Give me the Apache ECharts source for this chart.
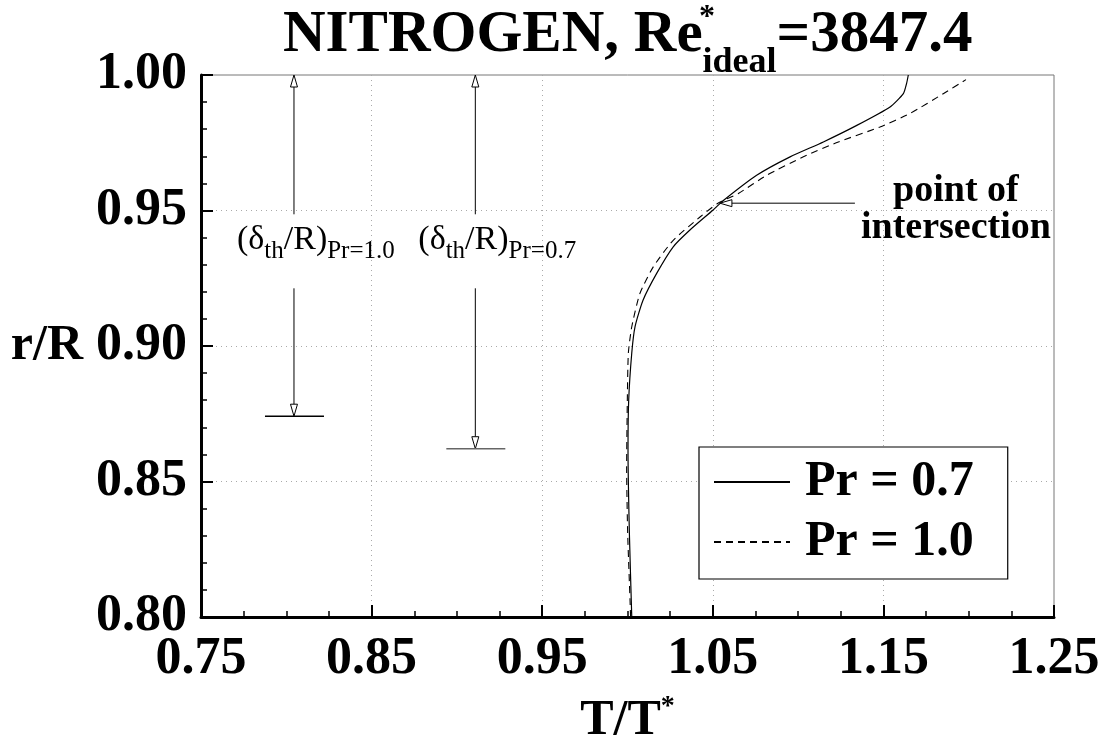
<!DOCTYPE html>
<html>
<head>
<meta charset="utf-8">
<script src="https://cdn.jsdelivr.net/npm/echarts@6/dist/echarts.min.js"></script>
<style>
  html, body { margin: 0; padding: 0; background: #fff; }
  #chart { width: 1109px; height: 738px; }
</style>
</head>
<body>
<div id="chart"></div>
<script>
// ---- data (T/T*, r/R) ----
const pr07 = [
  [1.0025, 0.800], [1.0011, 0.831], [1.0003, 0.862], [1.0007, 0.880],
  [1.0025, 0.8974], [1.0044, 0.9071], [1.0091, 0.9169], [1.0171, 0.9268],
  [1.0268, 0.9366], [1.0366, 0.9428], [1.0500, 0.9501], [1.0562, 0.9537],
  [1.0757, 0.9630], [1.0953, 0.9698], [1.1148, 0.9753], [1.1344, 0.9814],
  [1.1539, 0.9882], [1.1617, 0.9931], [1.1636, 0.9969], [1.1646, 1.000]
];
const pr10 = [
  [1.0018, 0.800], [1.0015, 0.806], [1.0001, 0.831], [0.9995, 0.855],
  [0.9999, 0.880], [1.0005, 0.8974], [1.0025, 0.9071], [1.0073, 0.9194],
  [1.0151, 0.9292], [1.0268, 0.9390], [1.0425, 0.9476], [1.0530, 0.9527],
  [1.0650, 0.9563], [1.0816, 0.9630], [1.1031, 0.9698], [1.1236, 0.9753],
  [1.1480, 0.9808], [1.1656, 0.9858], [1.1851, 0.9931], [1.1984, 0.9983]
];
const seriesNames = ['Pr = 0.7', 'Pr = 1.0'];
// thermal boundary layer thickness markers: T position, r/R at edge, Pr label
const deltaT = [0.8045, 0.9108];
const deltaEdge = [0.8741, 0.8621];
const deltaPr = ['1.0', '0.7'];
// point of intersection
const intersectPt = [1.0530, 0.9527];
const xTicks = [0.75, 0.85, 0.95, 1.05, 1.15, 1.25];
const yTicks = [0.80, 0.85, 0.90, 0.95, 1.00];

const SERIF = 'Liberation Serif, Times New Roman, serif';

const chart = echarts.init(document.getElementById('chart'), null, { renderer: 'canvas' });

function deltaItem(params, api) {
  const tX = api.value(0);
  const top = api.coord([tX, yTicks[yTicks.length - 1]]);
  const bot = api.coord([tX, api.value(1)]);
  const x = top[0];
  const labelY = api.coord([tX, 0.939])[1];
  const ah = 12, aw = 3.5;
  const pr = deltaPr[params.dataIndex];
  const stroke = { stroke: '#000', lineWidth: 1 };
  return {
    type: 'group',
    children: [
      { type: 'line', shape: { x1: x, y1: top[1] + ah, x2: x, y2: labelY - 26 }, style: stroke },
      { type: 'polygon', shape: { points: [[x, top[1]], [x - aw, top[1] + ah], [x + aw, top[1] + ah]] },
        style: { fill: '#fff', stroke: '#000', lineWidth: 1 } },
      { type: 'line', shape: { x1: x, y1: labelY + 48, x2: x, y2: bot[1] - ah }, style: stroke },
      { type: 'polygon', shape: { points: [[x, bot[1]], [x - aw, bot[1] - ah], [x + aw, bot[1] - ah]] },
        style: { fill: '#fff', stroke: '#000', lineWidth: 1 } },
      { type: 'line', shape: { x1: x - 29, y1: bot[1], x2: x + 30, y2: bot[1] },
        style: { stroke: params.dataIndex === 0 ? '#000' : '#666', lineWidth: 1.5 } },
      { type: 'text', x: x - 57, y: labelY,
        style: {
          text: '{p|(δ}{s|th}{p|/R)}{s|Pr=' + pr + '}',
          align: 'left', verticalAlign: 'middle',
          rich: {
            p: { fontFamily: SERIF, fontSize: 34, lineHeight: 48, fill: '#000', color: '#000' },
            s: { fontFamily: SERIF, fontSize: 25, lineHeight: 25, verticalAlign: 'bottom', fill: '#000', color: '#000' }
          }
        } }
    ]
  };
}

function intersectItem(params, api) {
  const p = api.coord([api.value(0), api.value(1)]);
  const x = p[0] + 2, y = p[1];
  const ah = 12, aw = 3.5;
  return {
    type: 'group',
    children: [
      { type: 'polygon', shape: { points: [[x, y], [x + ah, y - aw], [x + ah, y + aw]] },
        style: { fill: '#fff', stroke: '#000', lineWidth: 1 } },
      { type: 'line', shape: { x1: x + ah, y1: y, x2: x + 135, y2: y }, style: { stroke: '#000', lineWidth: 1 } },
      { type: 'text', x: x + 236, y: y + 7,
        style: {
          text: 'point of\nintersection', align: 'center', verticalAlign: 'middle',
          fontFamily: SERIF, fontWeight: 'bold', fontSize: 38, lineHeight: 37, fill: '#000'
        } }
    ]
  };
}

const fmt2 = v => Number(v).toFixed(2);

chart.setOption({
  animation: false,
  backgroundColor: '#fff',
  title: [
    {
      text: '{a|NITROGEN, Re}{b|ideal}{a|=3847.4}',
      left: 283,
      top: -9,
      padding: 0,
      textStyle: {
        rich: {
          a: { fontFamily: SERIF, fontWeight: 'bold', fontSize: 59, lineHeight: 90, color: '#000' },
          b: { fontFamily: SERIF, fontWeight: 'bold', fontSize: 36, lineHeight: 36, verticalAlign: 'bottom', color: '#000' }
        }
      }
    },
    {
      text: '*',
      left: 699,
      top: 2,
      padding: 0,
      textStyle: { fontFamily: SERIF, fontWeight: 'bold', fontSize: 32, color: '#000' }
    }
  ],
  grid: {
    left: 201, right: 55, top: 75, bottom: 121,
    outerBoundsMode: 'none', containLabel: false,
    show: true, borderColor: '#777', borderWidth: 1, backgroundColor: 'transparent'
  },
  legend: {
    orient: 'vertical',
    left: 699, top: 447,
    itemWidth: 76, itemHeight: 14, itemGap: 10,
    padding: [10, 34, 12, 14],
    borderColor: '#000', borderWidth: 1.2, backgroundColor: '#fff',
    data: seriesNames,
    itemStyle: { opacity: 0 },
    textStyle: { fontFamily: SERIF, fontWeight: 'bold', fontSize: 50, lineHeight: 50, color: '#000', padding: [0, 0, 0, 10] }
  },
  xAxis: {
    type: 'value', min: xTicks[0], max: xTicks[xTicks.length - 1], interval: 0.1,
    name: '{a|T/T}{s|*}', nameLocation: 'middle', nameGap: 76,
    nameTextStyle: {
      rich: {
        a: { fontFamily: SERIF, fontWeight: 'bold', fontSize: 50, lineHeight: 56, color: '#000' },
        s: { fontFamily: SERIF, fontWeight: 'bold', fontSize: 28, lineHeight: 28, verticalAlign: 'top', color: '#000' }
      }
    },
    axisLine: { show: true, onZero: false, lineStyle: { color: '#000', width: 3 } },
    axisTick: { show: true, inside: true, length: 12, lineStyle: { color: '#000', width: 2 } },
    minorTick: { show: true, splitNumber: 4, length: 6, lineStyle: { color: '#000', width: 1.5 } },
    axisLabel: { fontFamily: SERIF, fontWeight: 'bold', fontSize: 52, color: '#000', margin: 17, formatter: fmt2 },
    splitLine: { show: true, showMinLine: false, showMaxLine: false, lineStyle: { type: [1, 4], color: '#aaa', width: 1 } }
  },
  yAxis: {
    type: 'value', min: yTicks[0], max: yTicks[yTicks.length - 1], interval: 0.05,
    name: 'r/R', nameLocation: 'middle', nameRotate: 0, nameGap: 118,
    nameTextStyle: { fontFamily: SERIF, fontWeight: 'bold', fontSize: 50, color: '#000' },
    axisLine: { show: true, onZero: false, lineStyle: { color: '#000', width: 3 } },
    axisTick: { show: true, inside: true, length: 12, lineStyle: { color: '#000', width: 2 } },
    minorTick: { show: true, splitNumber: 5, length: 6, lineStyle: { color: '#000', width: 1.5 } },
    axisLabel: { fontFamily: SERIF, fontWeight: 'bold', fontSize: 52, color: '#000', margin: 14, formatter: fmt2 },
    splitLine: { show: true, showMinLine: false, showMaxLine: false, lineStyle: { type: [1, 4], color: '#aaa', width: 1 } }
  },
  series: [
    {
      name: seriesNames[0], type: 'line', data: pr07, symbol: 'none', smooth: 0.2,
      lineStyle: { color: '#000', width: 1.2, type: 'solid' }, itemStyle: { color: '#000' }, z: 3
    },
    {
      name: seriesNames[1], type: 'line', data: pr10, symbol: 'none', smooth: 0.2,
      lineStyle: { color: '#000', width: 1.1, type: [7, 5] }, itemStyle: { color: '#666' }, z: 3
    },
    {
      type: 'custom', renderItem: deltaItem, data: deltaT.map((t, i) => [t, deltaEdge[i]]),
      clip: false, silent: true, z: 4
    },
    {
      type: 'custom', renderItem: intersectItem, data: [intersectPt],
      clip: false, silent: true, z: 4
    }
  ]
});
</script>
</body>
</html>
